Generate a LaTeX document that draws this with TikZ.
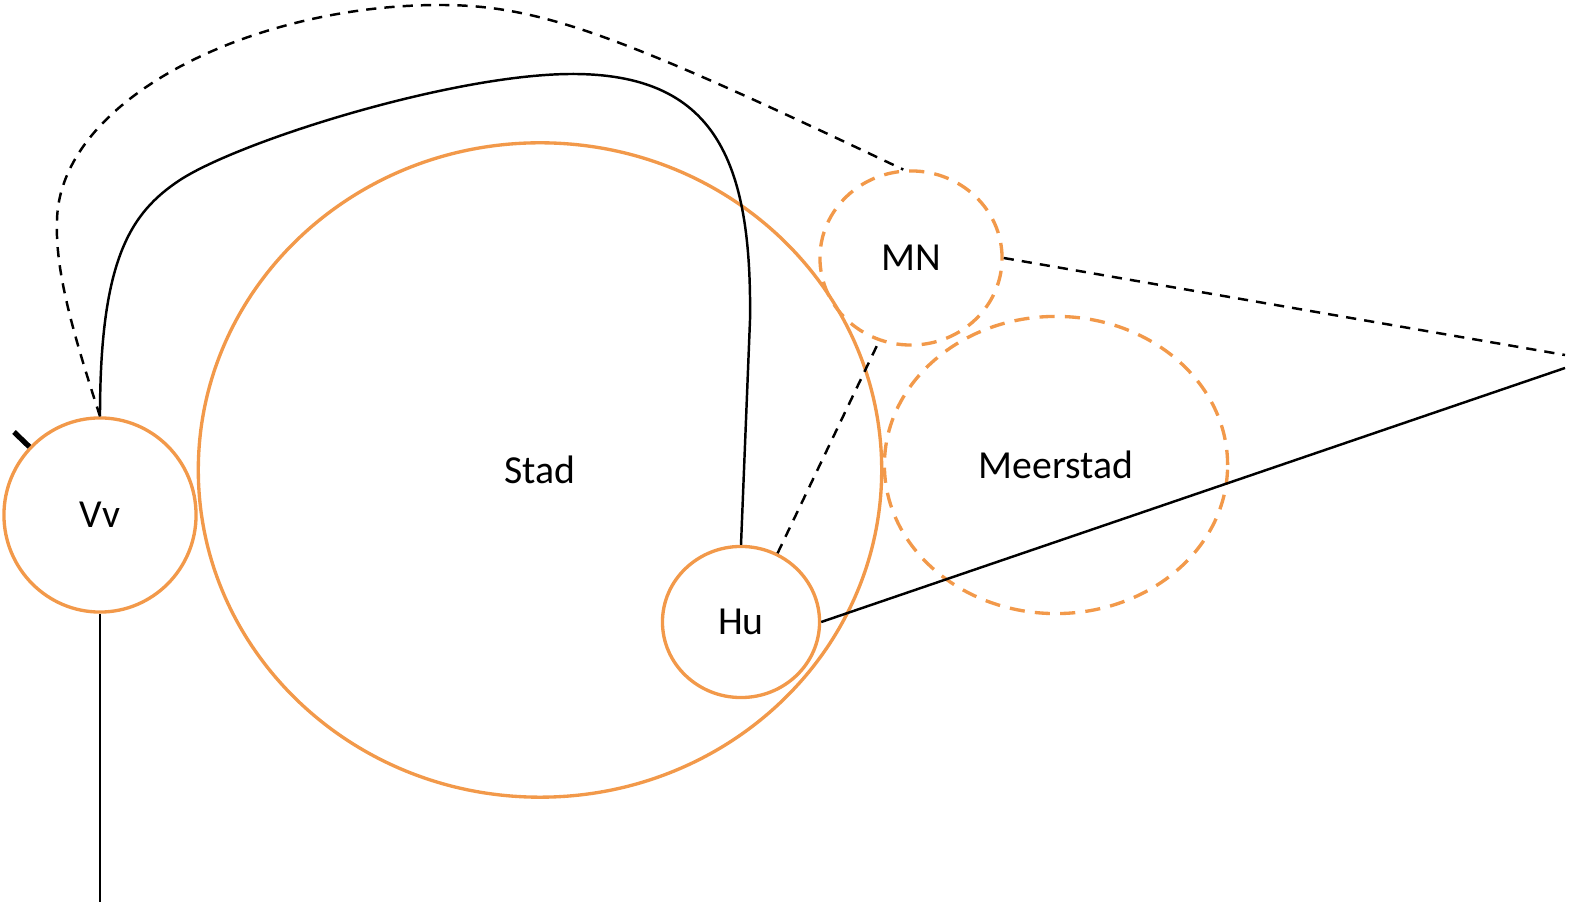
\documentclass[tikz,border=0pt]{standalone}
\usepackage{fontspec}
\setmainfont{Carlito}
\usetikzlibrary{shapes.geometric}
\definecolor{zoneorange}{RGB}{242,153,74}
\begin{document}
\begin{tikzpicture}%
	[x=0.01cm, y=-0.01cm,
	font=\fontsize{11.3}{13}\selectfont,
	zone/.style={ellipse, draw=zoneorange, line width=0.95pt, inner sep=0pt},
	future/.style={zone, dash pattern=on 4.3pt off 2.9pt},
	link/.style={draw=black, line width=0.7pt},
	plan/.style={link, dash pattern=on 2.9pt off 2.3pt},
	stub/.style={draw=black, line width=1.5pt}]
\useasboundingbox (0,0) rectangle (1573,904);
%
%% Zones
%%
\node[zone, minimum width=6.83cm, minimum height=6.54cm] (Stad) at (540,470) {Stad};
\node[zone, minimum width=1.92cm, minimum height=1.94cm] (Vv) at (100,515) {Vv};
\node[zone, minimum width=1.57cm, minimum height=1.51cm] (Hu) at (741,622) {Hu};
\node[future, minimum width=1.82cm, minimum height=1.74cm] (MN) at (911,258) {MN};
\node[future, minimum width=3.43cm, minimum height=2.97cm] (Meerstad) at (1056,465) {Meerstad};
%%
%% Free ends
%%
\coordinate (tipdash) at (1565,355);
\coordinate (tipline) at (1565,368);
\coordinate (bottom) at (100,902);
\coordinate (stubend) at (14,432);
%%
%% Solid links
%%
\draw[link] (Vv.north) .. controls (100,260) and (130,213) .. (180,180)
	.. controls (240,141) and (450,75) .. (570,74)
	.. controls (715,73) and (752,160) .. (750,320) -- (Hu.north);
\draw[link] (Hu.east) -- (tipline);
\draw[link] (Vv.south) -- (bottom);
\draw[stub] (Vv.136) -- (stubend);
%%
%% Dashed links
%%
\draw[plan] (Vv.north) .. controls (72,330) and (55,270) .. (57,220)
	.. controls (60,100) and (250,5) .. (440,5)
	.. controls (540,5) and (620,35) .. (MN.95);
\draw[plan] (Hu.62) -- (MN.249);
\draw[plan] (MN.east) -- (tipdash);
%%
\end{tikzpicture}
\end{document}
